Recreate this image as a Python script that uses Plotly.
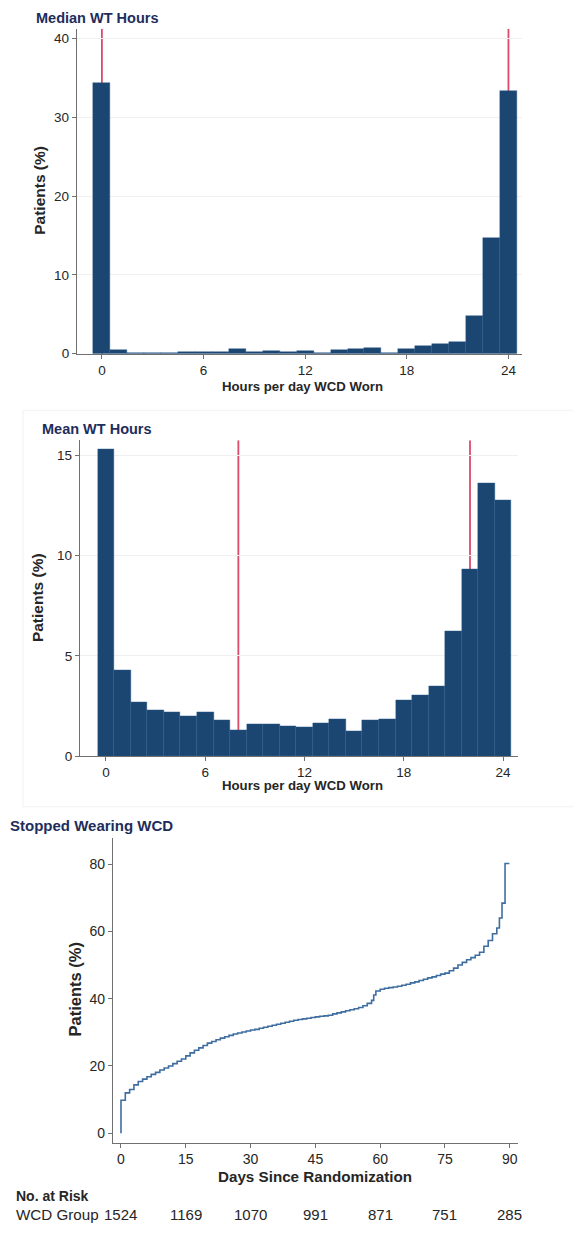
import plotly.graph_objects as go

# The page body keeps its default 8px margin, so the figure is sized and
# positioned to land on the 581x1233 window exactly.
PAD = 8
FW, FH = 581 - PAD, 1233 - PAD

# ---------------- data ----------------
hours = list(range(25))
median_pct = [34.3, 0.45, 0.1, 0.08, 0.15, 0.2, 0.2, 0.2, 0.6, 0.22, 0.4, 0.3, 0.35,
              0.05, 0.55, 0.62, 0.75, 0.08, 0.6, 0.95, 1.25, 1.55, 4.75, 14.7, 33.4]
mean_pct = [15.3, 4.28, 2.69, 2.30, 2.18, 1.97, 2.17, 1.77, 1.29, 1.57, 1.57, 1.49, 1.42,
            1.64, 1.85, 1.22, 1.77, 1.83, 2.78, 3.02, 3.49, 6.25, 9.31, 13.64, 12.78]
median_ref_lines = [0, 24]
mean_ref_lines = [8, 22]

km_days = [0, 0, 1, 2, 3, 4, 5, 6, 7, 8, 9, 10, 11, 12, 13, 14, 15, 16, 17, 18, 19, 20,
           21, 22, 23, 24, 25, 26, 27, 28, 29, 30, 31, 32, 33, 34, 35, 36, 37, 38, 39, 40,
           41, 42, 43, 44, 45, 46, 47, 48, 49, 50, 51, 52, 53, 54, 55, 56, 57, 58, 58.5, 59,
           60, 61, 62, 63, 64, 65, 66, 67, 68, 69, 70, 71, 72, 73, 74, 75, 76, 77, 78, 79,
           80, 81, 82, 83, 84, 85, 86, 87, 87.6, 88.2, 88.9, 89.9]
km_pct = [0, 9.8, 12.0, 13.0, 14.4, 15.4, 16.1, 16.8, 17.5, 18.1, 18.8, 19.4, 20.0, 20.7,
          21.4, 22.1, 23.0, 23.9, 24.7, 25.4, 26.1, 26.8, 27.3, 27.8, 28.3, 28.7, 29.1, 29.5,
          29.8, 30.1, 30.4, 30.7, 30.9, 31.2, 31.5, 31.8, 32.1, 32.4, 32.7, 33.0, 33.3, 33.6,
          33.8, 34.0, 34.2, 34.4, 34.6, 34.8, 34.9, 35.1, 35.5, 35.8, 36.1, 36.4, 36.7, 37.0,
          37.4, 37.9, 38.6, 39.5, 41.1, 42.3, 42.8, 43.1, 43.3, 43.5, 43.7, 44.0, 44.3, 44.7,
          45.0, 45.4, 45.8, 46.2, 46.5, 46.9, 47.3, 47.6, 48.3, 49.1, 50.0, 50.8, 51.6, 52.2,
          52.9, 53.8, 55.6, 57.3, 59.3, 61.0, 64.0, 68.4, 80.2, 80.2]

risk_days = [0, 15, 30, 45, 60, 75, 90]
risk_counts = ["1524", "1169", "1070", "991", "871", "751", "285"]

hour_ticks = [0, 6, 12, 18, 24]

# ---------------- style ----------------
BAR = "#1b4672"
RED = "#dc4a6c"
NAVY = "#1e2d5c"
AXC = "#707070"
TXT = "#262626"
GRID = "#f0f0f0"
FONT = "Liberation Sans, Arial, sans-serif"


def px(x):
    return (x - PAD) / FW


def py(y):
    return 1 - (y - PAD) / FH


def xd(a, b):
    return [px(a), px(b)]


def yd(top, bottom):
    return [py(bottom), py(top)]


fig = go.Figure()

fig.add_trace(go.Bar(x=hours, y=median_pct, xaxis="x", yaxis="y", width=1.0,
                     marker=dict(color=BAR, line=dict(color="#2a5a8a", width=0.4)),
                     showlegend=False))
fig.add_trace(go.Bar(x=hours, y=mean_pct, xaxis="x2", yaxis="y2", width=1.0,
                     marker=dict(color=BAR, line=dict(color="#2a5a8a", width=0.4)),
                     showlegend=False))
fig.add_trace(go.Scatter(x=km_days, y=km_pct, xaxis="x3", yaxis="y3", mode="lines",
                         line=dict(color="#3e6e9f", width=1.6, shape="hv"),
                         showlegend=False))


def ax(size, grid=False):
    return dict(showline=True, linecolor=AXC, linewidth=1.3, ticks="outside",
                ticklen=4, tickcolor=AXC, tickwidth=1.1, showgrid=grid,
                gridcolor=GRID, gridwidth=1, zeroline=False,
                tickfont=dict(family=FONT, size=size, color=TXT))


fig.update_layout(
    width=FW, height=FH,
    margin=dict(l=0, r=0, t=0, b=0),
    paper_bgcolor="white", plot_bgcolor="white",
    bargap=0,
    font=dict(family=FONT),
    xaxis=dict(domain=xd(77, 522), range=[-1.47, 24.8], tickvals=hour_ticks,
               anchor="y", **ax(13.5)),
    yaxis=dict(domain=yd(29, 356), range=[0, 41.2], tickvals=[0, 10, 20, 30, 40],
               anchor="x", **ax(13.5, True)),
    xaxis2=dict(domain=xd(80, 518), range=[-1.57, 24.9], tickvals=hour_ticks,
                anchor="y2", **ax(13.5)),
    yaxis2=dict(domain=yd(443, 761), range=[0, 15.76], tickvals=[0, 5, 10, 15],
                anchor="x2", **ax(13.5, True)),
    xaxis3=dict(domain=xd(113, 518), range=[-1.85, 91.9], tickvals=risk_days,
                anchor="y3", **ax(14)),
    yaxis3=dict(domain=yd(843, 1150), range=[-2.75, 87.9], tickvals=[0, 20, 40, 60, 80],
                anchor="x3", **ax(14)),
)

shapes = []
for v in median_ref_lines:
    shapes.append(dict(type="line", xref="x", yref="y", x0=v, x1=v, y0=0, y1=41.2,
                       line=dict(color=RED, width=1.8), layer="below"))
for v in mean_ref_lines:
    shapes.append(dict(type="line", xref="x2", yref="y2", x0=v, x1=v, y0=0, y1=15.76,
                       line=dict(color=RED, width=1.8), layer="below"))
# faint frame of the middle graph region
shapes.append(dict(type="rect", xref="paper", yref="paper", x0=px(23), x1=1.02,
                   y0=py(812), y1=py(413),
                   line=dict(color="#f1f1f1", width=1), layer="below"))
fig.update_layout(shapes=shapes)

ann = []


def txt(x, y, s, size, bold=False, color=TXT, anchor="left", angle=0):
    ann.append(dict(x=px(x), y=py(y), xref="paper", yref="paper",
                    text=f"<b>{s}</b>" if bold else s, showarrow=False,
                    xanchor=anchor, yanchor="middle", textangle=angle,
                    font=dict(family=FONT, size=size, color=color)))


txt(34, 18, "Median WT Hours", 14.5, True, NAVY)
txt(40, 432, "Mean WT Hours", 14.5, True, NAVY)
txt(8, 831, "Stopped Wearing WCD", 15, True, NAVY)

txt(40, 192, "Patients (%)", 15.5, True, TXT, "center", -90)
txt(37, 602, "Patients (%)", 15.5, True, TXT, "center", -90)
txt(75, 996, "Patients (%)", 16.5, True, TXT, "center", -90)

txt(302, 389, "Hours per day WCD Worn", 13.2, True, TXT, "center")
txt(302, 791, "Hours per day WCD Worn", 13.2, True, TXT, "center")
txt(315, 1184, "Days Since Randomization", 15.2, True, TXT, "center")

txt(14, 1204, "No. at Risk", 14, True, TXT)
txt(14, 1222, "WCD Group", 15.2, False, TXT)

for d, c in zip(risk_days, risk_counts):
    ann.append(dict(x=d, y=py(1222), xref="x3", yref="paper", text=c,
                    showarrow=False, xanchor="center", yanchor="middle",
                    font=dict(family=FONT, size=15, color=TXT)))

fig.update_layout(annotations=ann)

fig.write_html("out.html")
